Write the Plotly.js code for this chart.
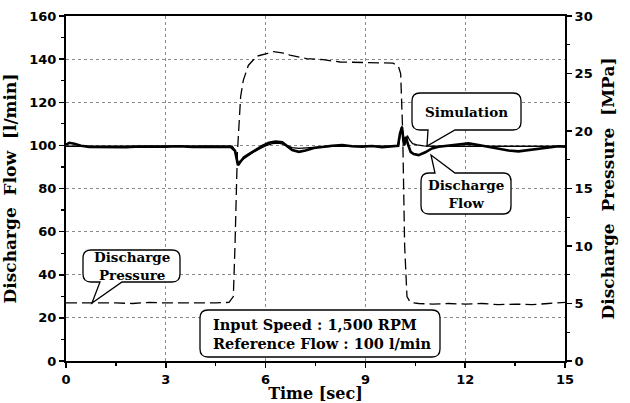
<!DOCTYPE html>
<html><head><meta charset="utf-8">
<script src="https://cdn.plot.ly/plotly-3.0.1.min.js"></script>
<style>html,body{margin:0;padding:0;background:#fff}</style>
</head><body><div id="chart" style="width:630px;height:403px"></div>
<script>
// Measured discharge flow [l/min]
const timeFlow = [0, 0.1, 0.25, 0.45, 0.7, 1.0, 1.4, 1.8, 2.2, 2.6, 3.0, 3.4, 3.8, 4.2, 4.6, 4.95, 5.08, 5.17, 5.25, 5.35, 5.5, 5.7, 5.9, 6.1, 6.3, 6.5, 6.65, 6.8, 7.0, 7.2, 7.45, 7.7, 8.0, 8.3, 8.6, 8.9, 9.2, 9.5, 9.8, 9.98, 10.04, 10.1, 10.16, 10.22, 10.28, 10.36, 10.45, 10.6, 10.8, 11.0, 11.2, 11.5, 11.8, 12.1, 12.4, 12.7, 13.0, 13.3, 13.6, 13.9, 14.2, 14.5, 14.8, 15.0];
const flowMeasured = [100.3, 101.2, 100.8, 99.8, 99.3, 99.2, 99.4, 99.2, 99.5, 99.3, 99.4, 99.6, 99.3, 99.4, 99.2, 99.3, 97.5, 90.8, 92.5, 94.5, 96.0, 98.0, 99.8, 101.2, 101.8, 101.4, 99.5, 97.8, 97.0, 97.6, 98.8, 99.4, 99.8, 100.2, 99.6, 99.4, 99.7, 99.2, 99.5, 99.8, 105.5, 108.5, 100.0, 104.0, 100.5, 97.0, 96.0, 95.5, 96.8, 98.6, 99.4, 99.8, 100.4, 100.9, 100.2, 99.4, 98.6, 97.6, 97.2, 97.8, 98.4, 99.3, 99.6, 99.4];
// Simulated discharge flow [l/min]
const timeSim = [0, 0.3, 1, 2, 3, 4, 5.0, 5.1, 5.17, 5.25, 5.4, 5.6, 5.8, 6.0, 6.2, 6.4, 6.6, 6.8, 7.0, 7.3, 7.6, 8.0, 9.0, 10.0, 10.05, 10.1, 10.15, 10.2, 10.26, 10.33, 10.42, 10.55, 10.75, 11.0, 11.5, 12, 13, 14, 15];
const flowSim = [99.6, 99.6, 99.5, 99.6, 99.5, 99.6, 99.6, 97, 92, 92.8, 94.5, 96.5, 98.2, 99.8, 100.8, 101, 100.2, 99.0, 98.6, 99.0, 99.4, 99.6, 99.6, 99.7, 106, 109, 103, 100.5, 104.5, 102.5, 100.8, 100.2, 99.8, 99.6, 99.6, 99.6, 99.6, 99.6, 99.6];
// Discharge pressure [MPa]
const timePressure = [0, 0.5, 1, 1.5, 2, 2.5, 3, 3.5, 4, 4.5, 4.9, 5.03, 5.08, 5.15, 5.25, 5.33, 5.48, 5.73, 6.06, 6.23, 6.5, 6.73, 7.23, 7.73, 8.24, 8.74, 9.23, 9.83, 9.99, 10.06, 10.12, 10.18, 10.25, 10.35, 10.6, 11, 11.5, 12, 12.5, 13, 13.5, 14, 14.5, 15];
const pressure = [5.05, 5.05, 5.1, 5.05, 5.0, 5.1, 5.05, 5.05, 5.0, 5.05, 5.1, 5.6, 10, 18, 23, 24.4, 25.7, 26.5, 26.75, 26.9, 26.8, 26.6, 26.3, 26.2, 26.0, 25.95, 25.9, 25.9, 25.65, 25.0, 20, 10, 5.6, 5.1, 5.0, 4.95, 5.0, 4.95, 5.0, 4.9, 4.95, 4.9, 5.0, 5.1];
const xTicks = [0, 3, 6, 9, 12, 15];

const serif = 'DejaVu Serif';
const sans = 'DejaVu Sans';

// plot area geometry (pixels)
const M = {l: 66, r: 65, t: 16, b: 42};
const PL = M.l, PB = 403 - M.b;
const W = 630 - M.l - M.r, H = 403 - M.t - M.b;

function callout(px0, py0, px1, py1, r, w) {
  const x0 = px0 - PL, x1 = px1 - PL, y1 = PB - py0, y0 = PB - py1;
  let p = `M${x0 + r},${y1}`;
  if (w && w.edge === 'top') p += ` L${w.a - PL},${y1} L${w.tx - PL},${PB - w.ty} L${w.b - PL},${y1}`;
  p += ` L${x1 - r},${y1} Q${x1},${y1} ${x1},${y1 - r} L${x1},${y0 + r} Q${x1},${y0} ${x1 - r},${y0}`;
  if (w && w.edge === 'bottom') p += ` L${w.b - PL},${y0} L${w.tx - PL},${PB - w.ty} L${w.a - PL},${y0}`;
  p += ` L${x0 + r},${y0} Q${x0},${y0} ${x0},${y0 + r} L${x0},${y1 - r} Q${x0},${y1} ${x0 + r},${y1} Z`;
  return {type: 'path', xref: 'paper', yref: 'paper', xsizemode: 'pixel', ysizemode: 'pixel',
    xanchor: 0, yanchor: 0, path: p, line: {color: '#000', width: 1.3}, fillcolor: '#fff', layer: 'above'};
}
function pxX(px) { return (px - PL) / W; }
function pxY(py) { return (PB - py) / H; }

const traces = [
  {x: timePressure, y: pressure, yaxis: 'y2', mode: 'lines', name: 'Discharge Pressure',
   line: {color: '#000', width: 1.3, dash: '11px,5px'}},
  {x: timeSim, y: flowSim, mode: 'lines', name: 'Simulation', line: {color: '#000', width: 1.3}},
  {x: timeFlow, y: flowMeasured, mode: 'lines', name: 'Discharge Flow', line: {color: '#000', width: 2.6}}
];

const ann = (text, x, y, opts) => Object.assign({text: text, x: x, y: y, xref: 'paper', yref: 'paper',
  xanchor: 'center', yanchor: 'middle', align: 'center',
  showarrow: false, font: {family: serif, size: 13.5, color: '#000', weight: 'bold'}}, opts || {});

const layout = {
  width: 630, height: 403, margin: M, showlegend: false,
  paper_bgcolor: '#fff', plot_bgcolor: '#fff',
  xaxis: {range: [0, 15], tickvals: xTicks, ticktext: xTicks.map(String), showgrid: true, gridcolor: '#8a8a8a', griddash: 'dot', gridwidth: 1,
    showline: true, linecolor: '#000', linewidth: 2, mirror: true, zeroline: false,
    ticks: 'outside', ticklen: 5, tickwidth: 1.5, tickcolor: '#000',
    minor: {dtick: 1.5, ticks: 'outside', ticklen: 3, tickwidth: 1.2, tickcolor: '#000', showgrid: false},
    tickfont: {family: sans, size: 13, color: '#000', weight: 'bold'},
    title: {text: 'Time [sec]', font: {family: serif, size: 16, color: '#000', weight: 'bold'}, standoff: 2}},
  yaxis: {range: [0, 160], dtick: 20, showgrid: true, gridcolor: '#8a8a8a', griddash: 'dot', gridwidth: 1,
    showline: true, linecolor: '#000', linewidth: 2, zeroline: false,
    ticks: 'outside', ticklen: 5, tickwidth: 1.5, tickcolor: '#000',
    minor: {dtick: 10, ticks: 'outside', ticklen: 3, tickwidth: 1.2, tickcolor: '#000', showgrid: false},
    tickfont: {family: sans, size: 13, color: '#000', weight: 'bold'},
    title: {text: 'Discharge  Flow  [l/min]', font: {family: serif, size: 17, color: '#000', weight: 'bold'}, standoff: 10}},
  yaxis2: {range: [0, 30], dtick: 5, overlaying: 'y', side: 'right', showgrid: false,
    showline: true, linecolor: '#000', linewidth: 2, zeroline: false,
    ticks: 'outside', ticklen: 5, tickwidth: 1.5, tickcolor: '#000',
    minor: {dtick: 2.5, ticks: 'outside', ticklen: 3, tickwidth: 1.2, tickcolor: '#000', showgrid: false},
    tickfont: {family: sans, size: 13, color: '#000', weight: 'bold'},
    title: {text: 'Discharge  Pressure  [MPa]', font: {family: serif, size: 17, color: '#000', weight: 'bold'}, standoff: 10}},
  shapes: [
    callout(412, 93, 521, 130, 8, {edge: 'bottom', a: 428, b: 455, tx: 427, ty: 146}),
    callout(421, 173, 511, 214, 8, {edge: 'top', a: 435, b: 455, tx: 431, ty: 155}),
    callout(83, 250, 180, 282, 8, {edge: 'bottom', a: 100, b: 122, tx: 92, ty: 303}),
    callout(200, 310, 440, 357, 8, null)
  ],
  annotations: [
    ann('Simulation', pxX(466.5), pxY(111.5)),
    ann('Discharge<br>Flow', pxX(466), pxY(193.5)),
    ann('Discharge<br>Pressure', pxX(131.5), pxY(266)),
    ann('Input Speed : 1,500 RPM<br>Reference Flow : 100 l/min', pxX(211), pxY(333.5),
      {xanchor: 'left', align: 'left', font: {family: serif, size: 14.5, color: '#000', weight: 'bold'}})
  ]
};

Plotly.newPlot('chart', traces, layout, {staticPlot: true, displayModeBar: false});
</script></body></html>
